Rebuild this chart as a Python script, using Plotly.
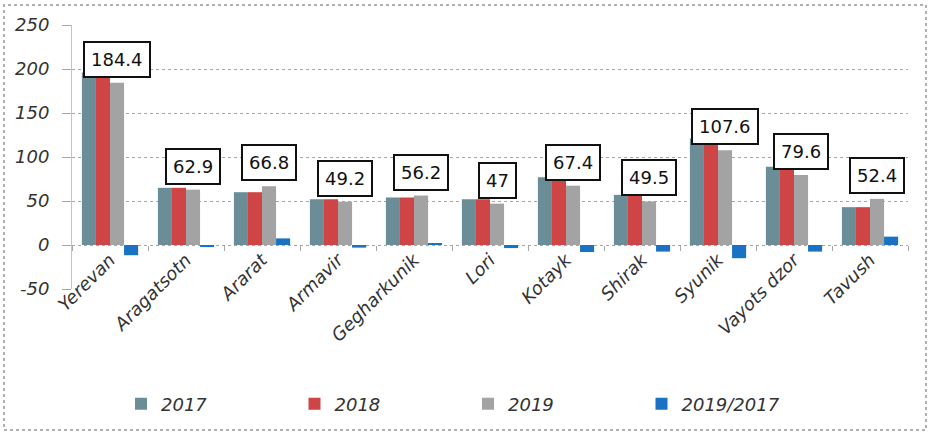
import plotly.graph_objects as go

# Regional values by year, with the 2019 vs 2017 change
regions = ["Yerevan", "Aragatsotn", "Ararat", "Armavir", "Gegharkunik", "Lori",
           "Kotayk", "Shirak", "Syunik", "Vayots dzor", "Tavush"]
v2017 = [196, 65, 60, 52, 54, 52, 77, 57, 121, 89, 43]
v2018 = [195, 65, 60, 52, 54, 52, 77, 58, 121, 89, 43]
v2019 = [184.4, 62.9, 66.8, 49.2, 56.2, 47, 67.4, 49.5, 107.6, 79.6, 52.4]
change = [-11.6, -1.5, 7.5, -3, 1.5, -3.5, -8, -7.5, -15, -7.5, 9.5]

y_ticks = [-50, 0, 50, 100, 150, 200, 250]
y_tick_text = ["-50", "0", "50", "100", "150", "200", "250"]

W, H = 931, 435
L, R, T, B = 72, 23, 25, 146
PW, PH = W - L - R, H - T - B

TXT = "#333333"
GRID = "#a6a6a6"
FONT = "DejaVu Sans"

fig = go.Figure()
series = [
    ("2017", v2017, "#6b8d98"),
    ("2018", v2018, "#cf4444"),
    ("2019", v2019, "#a3a3a3"),
    ("2019/2017", change, "#1a72c4"),
]
for name, vals, col in series:
    fig.add_trace(go.Bar(x=regions, y=vals, name=name, marker_color=col,
                         marker_line_width=0))

# boxed value labels above the 2019 bars
for reg, val in zip(regions, v2019):
    fig.add_annotation(
        x=reg, y=val, xref="x", yref="y", text=f"{val:g}",
        showarrow=False, yanchor="bottom", xanchor="center",
        xshift=7, yshift=5,
        font=dict(family=FONT, size=18, color="#111111"),
        bgcolor="white", bordercolor="#111111", borderwidth=2, borderpad=6,
    )

# outer frame of the chart
def px_x(p):
    return (p - L) / PW

def px_y(p):
    return (H - B - p) / PH

fig.add_shape(type="rect", xref="paper", yref="paper",
              x0=px_x(4), x1=px_x(926), y0=px_y(430), y1=px_y(5),
              line=dict(color="#b0b0b0", width=2, dash="dot"), layer="below")

fig.update_layout(
    width=W, height=H,
    margin=dict(l=L, r=R, t=T, b=B, pad=0, autoexpand=False),
    paper_bgcolor="white", plot_bgcolor="white",
    barmode="group", bargap=0.26, bargroupgap=0,
    showlegend=True,
    legend=dict(
        orientation="h", xref="container", yref="container",
        x=121 / W, xanchor="left", y=1 - 404 / H, yanchor="middle",
        font=dict(family=FONT, size=18, color=TXT, style="italic"),
        entrywidth=128.5, entrywidthmode="pixels",
        itemclick=False, tracegroupgap=0,
    ),
    xaxis=dict(
        anchor="free", position=50 / 300, automargin=False,
        tickangle=-45,
        tickfont=dict(family=FONT, size=18, color=TXT, style="italic"),
        showgrid=False, showline=False, zeroline=False,
        ticks="outside", tickson="boundaries", ticklen=5, tickcolor=GRID,
    ),
    yaxis=dict(
        range=[-50, 250], tickvals=y_ticks, ticktext=y_tick_text,
        automargin=False,
        tickfont=dict(family=FONT, size=18, color=TXT, style="italic"),
        showgrid=True, gridcolor=GRID, griddash="dot", gridwidth=1,
        zeroline=False,
        showline=True, linecolor="#c4c4c4", linewidth=1,
        ticks="outside", ticklen=9, tickcolor=GRID,
        ticklabelstandoff=9,
    ),
)

fig.write_html("out.html")
